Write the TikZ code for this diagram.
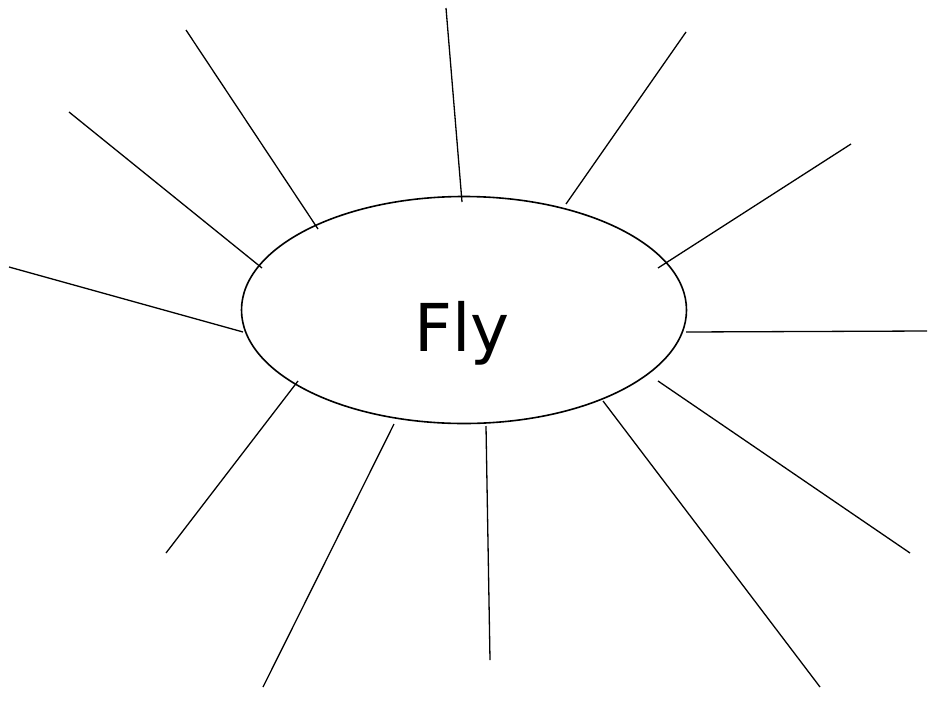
\documentclass[tikz,border=0pt]{standalone}
\usepackage{fontspec}
\setmainfont{DejaVu Sans}
\usetikzlibrary{shapes.geometric}
\begin{document}
\begin{tikzpicture}[x=1pt,y=-1pt,
  ray/.style={line width=1.3pt,black},
  hub/.style={draw,line width=1.6pt,ellipse,minimum width=445pt,minimum height=227pt,inner sep=0pt}]
\useasboundingbox (0,0) rectangle (928,715);
\node[hub] (c) at (464,310) {};
\node[font=\fontsize{66}{78}\selectfont,anchor=base,inner sep=0pt] (t) at (462,351) {Fly};
% inner ends
\coordinate (i1) at (318,229);
\coordinate (i2) at (262,268);
\coordinate (i3) at (243,332);
\coordinate (i4) at (298,381);
\coordinate (i5) at (394,424);
\coordinate (i6) at (486,426);
\coordinate (i7) at (603,401);
\coordinate (i8) at (658,381);
\coordinate (i9) at (686,332);
\coordinate (i10) at (658,268);
\coordinate (i11) at (566,204);
\coordinate (i12) at (462,202);
% outer ends
\coordinate (o1) at (186,30);
\coordinate (o2) at (69,112);
\coordinate (o3) at (9,267);
\coordinate (o4) at (166,553);
\coordinate (o5) at (263,687);
\coordinate (o6) at (490,660);
\coordinate (o7) at (820,687);
\coordinate (o8) at (910,553);
\coordinate (o9) at (927,331);
\coordinate (o10) at (851,144);
\coordinate (o11) at (686,32);
\coordinate (o12) at (446,8);
\foreach \k in {1,...,12} \draw[ray] (i\k) -- (o\k);
\end{tikzpicture}
\end{document}
